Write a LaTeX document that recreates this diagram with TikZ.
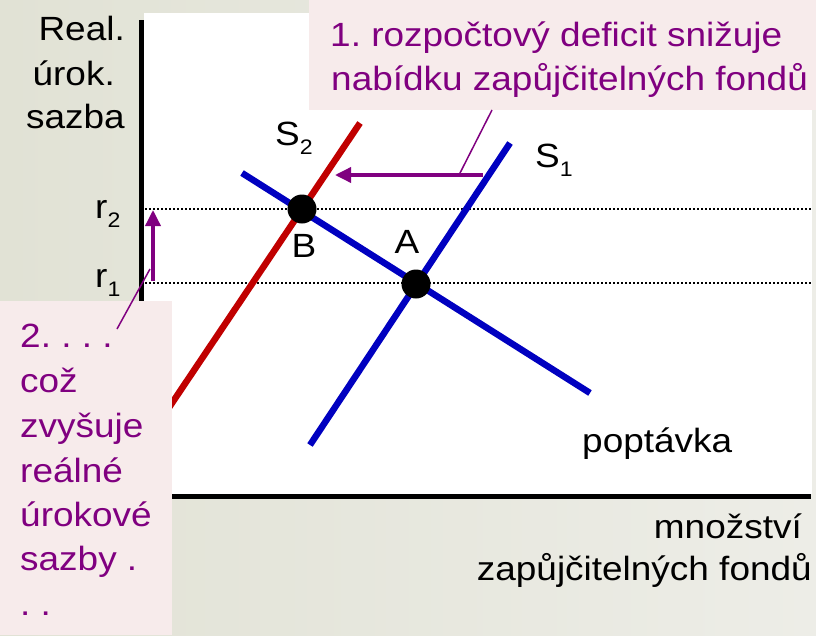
\documentclass[tikz,border=0pt]{standalone}
\usepackage{fontspec}
\setmainfont{Liberation Sans}[FakeStretch=1.1]
\usetikzlibrary{arrows.meta}
\definecolor{bgL}{RGB}{225,226,213}
\definecolor{bgR}{RGB}{237,237,231}
\definecolor{pinkbg}{RGB}{247,235,235}
\definecolor{purp}{RGB}{128,0,128}
\definecolor{blueln}{RGB}{0,0,192}
\definecolor{redln}{RGB}{192,0,0}
\newcommand\bigf{\fontsize{33.6}{44}\selectfont\frenchspacing}
\newcommand\subsc[1]{\raisebox{-9pt}{\fontsize{21}{21}\selectfont #1}}
\begin{document}
\begin{tikzpicture}[x=1pt,y=-1pt,
  txt/.style={font=\bigf, inner sep=0pt, text=black},
  ptxt/.style={font=\bigf, inner sep=0pt, text=purp},
  dotline/.style={line width=1.3pt, dash pattern=on 2pt off 2pt, black},
  axisln/.style={line width=5pt, black},
  supply2/.style={line width=6.5pt, redln},
  bluecurve/.style={line width=6.5pt, blueln},
  eqdot/.style={circle, fill=black, minimum size=29pt, inner sep=0pt},
  parrow/.style={line width=3.5pt, purp, -{Triangle[length=16pt,width=15pt]}},
  callout/.style={line width=1.5pt, purp},
  pinkbox/.style={fill=pinkbg, inner sep=0pt, anchor=north west}]
\useasboundingbox (0,0) rectangle (816,635);
\shade[left color=bgL, right color=bgR] (0,0) rectangle (816,635);
\fill[white] (144,13) rectangle (812,494);
% dotted levels
\coordinate (r2l) at (145,209); \coordinate (r2r) at (812,209);
\coordinate (r1l) at (145,283); \coordinate (r1r) at (812,283);
\draw[dotline] (r2l) -- (r2r);
\draw[dotline] (r1l) -- (r1r);
% axes
\coordinate (ytop) at (141.5,20); \coordinate (orig) at (141.5,496); \coordinate (xend) at (811,496);
\draw[axisln] (ytop) -- (orig) -- (xend);
% curves
\coordinate (s2top) at (360,123); \coordinate (s2bot) at (140.5,450);
\coordinate (s1top) at (510,143); \coordinate (s1bot) at (310,445);
\coordinate (dtop) at (242,173); \coordinate (dbot) at (590,393);
\draw[supply2] (s2top) -- (s2bot);
\draw[bluecurve] (s1top) -- (s1bot);
\draw[bluecurve] (dtop) -- (dbot);
\node[eqdot] (B) at (302,209) {};
\node[eqdot] (A) at (416,284) {};
% arrows
\coordinate (h1) at (483,175); \coordinate (h2) at (335,175);
\draw[parrow] (h1) -- (h2);
\coordinate (v1) at (153,281); \coordinate (v2) at (153,210);
\draw[parrow] (v1) -- (v2);
% pink boxes
\node[pinkbox, minimum width=507pt, minimum height=110pt] (box1) at (309,0) {};
\node[pinkbox, minimum width=172pt, minimum height=334pt] (box2) at (0,301) {};
% box texts
\node[ptxt, anchor=base west] (t1a) at (330,46) {1. rozpočtový deficit snižuje};
\node[ptxt, anchor=base west] (t1b) at (331,90) {nabídku zapůjčitelných fondů};
\node[ptxt, anchor=base west] (t2a) at (20,347) {2. . . .};
\node[ptxt, anchor=base west] (t2b) at (20,392) {což};
\node[ptxt, anchor=base west] (t2c) at (20,437) {zvyšuje};
\node[ptxt, anchor=base west] (t2d) at (20,482) {reálné};
\node[ptxt, anchor=base west] (t2e) at (20,526) {úrokové};
\node[ptxt, anchor=base west] (t2f) at (20,570) {sazby .};
\node[ptxt, anchor=base west] (t2g) at (20,615) {. .};
% callout lines
\coordinate (c1a) at (492,110); \coordinate (c1b) at (459,175);
\draw[callout] (c1a) -- (c1b);
\coordinate (c2a) at (117,329); \coordinate (c2b) at (150,269);
\draw[callout] (c2a) -- (c2b);
% axis labels
\node[txt, anchor=base east] (ya) at (125,40) {Real.};
\node[txt, anchor=base east] (yb) at (115,85) {úrok.};
\node[txt, anchor=base east] (yc) at (125,128) {sazba};
\node[txt, anchor=base west] (lr2) at (95,218) {r\subsc{2}};
\node[txt, anchor=base west] (lr1) at (95,287) {r\subsc{1}};
\node[txt, anchor=base west] (lS2) at (275,145) {S\subsc{2}};
\node[txt, anchor=base west] (lS1) at (535,167) {S\subsc{1}};
\node[txt, anchor=base] (lB) at (304,257) {B};
\node[txt, anchor=base] (lA) at (407,253) {A};
\node[txt, anchor=base west] (lD) at (582,452) {poptávka};
\node[txt, anchor=base east] (xa) at (802,538) {množství};
\node[txt, anchor=base east] (xb) at (812,580) {zapůjčitelných fondů};
\end{tikzpicture}
\end{document}
